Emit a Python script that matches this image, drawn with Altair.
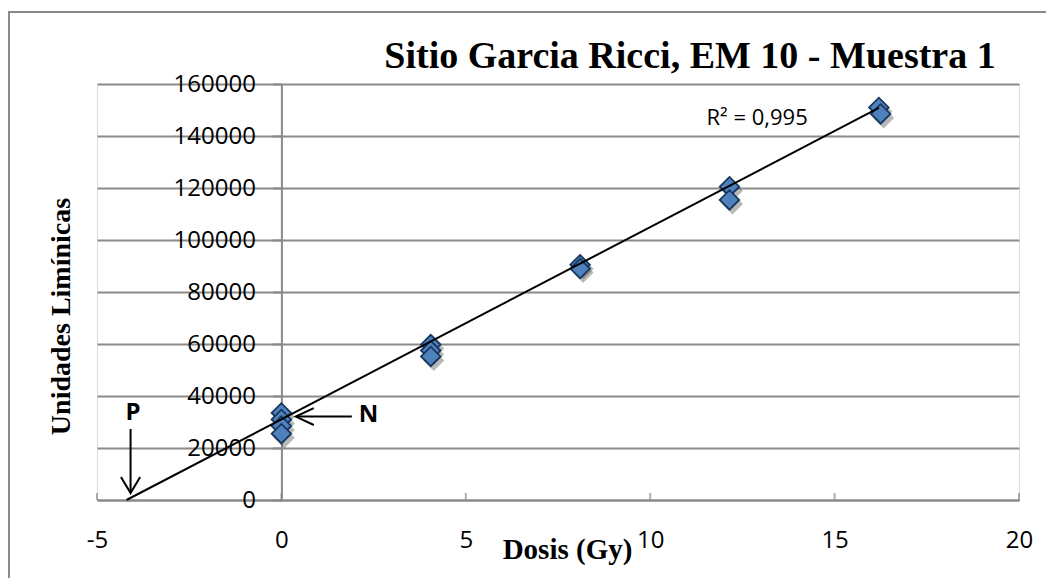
import altair as alt
import pandas as pd

# ---- data ----
dose = [0, 0, 0, 0, 4.05, 4.05, 4.05, 8.1, 8.1, 12.15, 12.15, 16.2, 16.25]
signal = [33500, 31000, 28500, 25500, 59800, 57500, 55200, 90500, 89000, 120500, 115400, 151000, 148500]

trend_x = [-4.2, 16.2]
trend_y = [0, 150800]

x_ticks = [-5, 0, 5, 10, 15, 20]
y_ticks = [0, 20000, 40000, 60000, 80000, 100000, 120000, 140000, 160000]

ann_text = ["P", "N"]
ann_x = [-4.02, 2.36]
ann_y = [33600, 32700]

# arrow shafts (start -> tip) and tips
arrow_x = [-4.09, 1.91]
arrow_y = [27300, 32100]
arrow_x2 = [-4.09, 0.39]
arrow_y2 = [2700, 32100]

r2_text = ["R² = 0,995"]
r2_x = [12.9]
r2_y = [146900]

pts = pd.DataFrame({"dose": dose, "signal": signal})
trend = pd.DataFrame({"dose": trend_x, "signal": trend_y})
ticks = pd.DataFrame({"t": x_ticks, "z": [0] * len(x_ticks)})
ann = pd.DataFrame({"label": ann_text, "x": ann_x, "y": ann_y})
arrows = pd.DataFrame({"x": arrow_x, "y": arrow_y, "x2": arrow_x2, "y2": arrow_y2})
r2 = pd.DataFrame({"label": r2_text, "x": r2_x, "y": r2_y})

GRID = "#8a8a8a"
xscale = alt.Scale(domain=[-5, 20], nice=False, zero=False)
yscale = alt.Scale(domain=[0, 160000], nice=False)

x_enc = alt.X(
    "dose:Q", scale=xscale,
    axis=alt.Axis(
        values=x_ticks, title="Dosis (Gy)", grid=False, ticks=False, tickSize=0,
        domainColor=GRID, domainWidth=2, labelExpr="toString(datum.value)",
        labelFont="Open Sans", labelFontSize=24, labelColor="black",
        labelPadding=40, labelBaseline="middle", labelFlush=False, labelOverlap=False,
        titleFont="Liberation Serif", titleFontWeight="bold", titleFontSize=29,
        titleColor="black", titleX=470, titleY=58, titleBaseline="alphabetic",
        titleAlign="center", titleAnchor="start",
    ),
)
y_enc = alt.Y(
    "signal:Q", scale=yscale,
    axis=alt.Axis(
        values=y_ticks, title="Unidades Limínicas", offset=-184.4,
        labelExpr="toString(datum.value)",
        grid=True, gridColor=GRID, gridWidth=2, gridOpacity=1,
        domainColor=GRID, domainWidth=2, tickColor=GRID, tickSize=9, tickWidth=2,
        labelFont="Open Sans", labelFontSize=24, labelColor="black", labelPadding=17,
        labelOverlap=False, labelBound=False, labelFlush=False,
        titleFont="Liberation Serif", titleFontWeight="bold", titleFontSize=28,
        titleColor="black", titleAngle=-90, titleX=-220, titleY=232,
        titleBaseline="middle", titleAlign="center", titleAnchor="start",
    ),
)

frame = alt.Chart(pd.DataFrame({"a": [0]})).mark_rect(
    fillOpacity=0, stroke="#8a8a8a", strokeWidth=2
).encode(
    x=alt.value(-88), x2=alt.value(990), y=alt.value(-72), y2=alt.value(560)
)

base = alt.Chart(pts)

shadow = base.mark_point(
    shape="diamond", filled=True, color="black", opacity=0.28, size=440,
    xOffset=3, yOffset=4
).encode(x=x_enc, y=y_enc)

points = base.mark_point(
    shape="diamond", filled=True, fill="#4f81bd", stroke="#17365d",
    strokeWidth=1.8, opacity=1, size=380
).encode(x="dose:Q", y="signal:Q")

line = alt.Chart(trend).mark_line(color="black", strokeWidth=2).encode(
    x="dose:Q", y="signal:Q"
)

xticks = alt.Chart(ticks).mark_tick(
    orient="vertical", size=7, thickness=2, color=GRID, yOffset=-3.5
).encode(x="t:Q", y="z:Q")

shafts = alt.Chart(arrows).mark_rule(color="black", strokeWidth=2).encode(
    x="x:Q", y="y:Q", x2="x2:Q", y2="y2:Q"
)

tip_p = alt.Chart(arrows.iloc[[0]]).mark_point(
    shape="M-0.6,-1L0,0L0.6,-1", filled=False, stroke="black", strokeWidth=2,
    size=1024, opacity=1
).encode(x="x2:Q", y="y2:Q")

tip_n = alt.Chart(arrows.iloc[[1]]).mark_point(
    shape="M1,-0.47L0,0L1,0.47", filled=False, stroke="black", strokeWidth=2,
    size=1296, opacity=1
).encode(x="x2:Q", y="y2:Q")

ann_marks = alt.Chart(ann).mark_text(
    font="Open Sans", fontSize=24, fontWeight="bold", color="black"
).encode(x="x:Q", y="y:Q", text="label:N")

r2_mark = alt.Chart(r2).mark_text(
    font="Open Sans", fontSize=22, color="black"
).encode(x="x:Q", y="y:Q", text="label:N")

chart = alt.layer(
    frame, xticks, shadow, points, line, shafts, tip_p, tip_n, ann_marks, r2_mark
).properties(
    width=922,
    height=416,
    autosize=alt.AutoSizeParams(type="none"),
    padding={"left": 89, "top": 76, "right": 27, "bottom": 78},
    title=alt.TitleParams(
        text="Sitio Garcia Ricci, EM 10 - Muestra 1",
        font="Liberation Serif", fontSize=38, fontWeight="bold", color="black",
        anchor="middle", frame="group", dx=132, dy=110, offset=15, baseline="alphabetic",
    ),
).configure_view(stroke=None).configure(background="white")

chart.save("out.html", embed_options={"renderer": "svg", "actions": False})
